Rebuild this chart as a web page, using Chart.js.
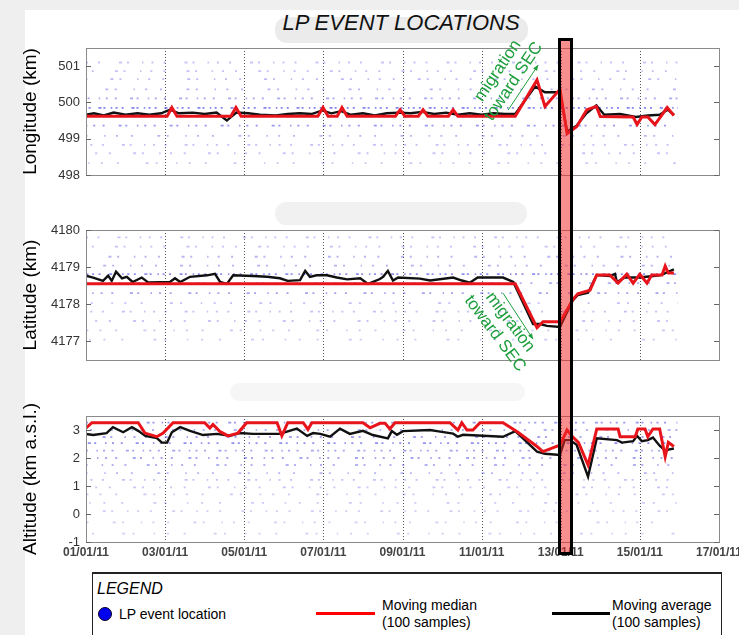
<!DOCTYPE html>
<html>
<head>
<meta charset="utf-8">
<script src="https://cdn.jsdelivr.net/npm/chart.js@4.4.1/dist/chart.umd.min.js"></script>
<style>
  html, body { margin: 0; padding: 0; background: #efefef; }
  #fig { position: relative; width: 739px; height: 635px; overflow: hidden; background: #efefef;
         font-family: "Liberation Sans", Arial, sans-serif; color: #000; }
  #sheet { position: absolute; left: 25px; top: 10px; width: 714px; height: 625px; background: #fff; }
  .band { position: absolute; border-radius: 12px; }
  canvas { position: absolute; left: 0; }
  #title { position: absolute; left: 401px; top: 12px; transform: translateX(-50%); white-space: nowrap;
           font-size: 22px; line-height: 22px; font-style: italic; color: #111; }
  #bar { position: absolute; box-sizing: border-box; background: rgba(240, 40, 40, 0.52);
         border: 3px solid #000; }
  #legend { position: absolute; left: 92px; top: 572px; width: 630px; height: 80px; box-sizing: border-box;
            border: 1.5px solid #222; border-top-width: 2px; background: #fff; }
  .lg { position: absolute; white-space: nowrap; font-size: 14px; line-height: 16px; }
</style>
</head>
<body>
<div id="fig">
  <div id="sheet"></div>
  <div class="band" style="left:275px;top:17px;width:253px;height:26px;background:#ebebeb"></div>
  <div class="band" style="left:275px;top:202px;width:252px;height:23px;background:#f1f1f1"></div>
  <div class="band" style="left:230px;top:383px;width:295px;height:18px;background:#f6f6f6"></div>
  <div id="title">LP EVENT LOCATIONS</div>

  <canvas id="lonChart" width="739" height="200" style="top:0"></canvas>
  <canvas id="latChart" width="739" height="185" style="top:200px"></canvas>
  <canvas id="altChart" width="739" height="185" style="top:385px"></canvas>

  <div id="legend"></div>
  <div class="lg" style="left:97px;top:580px;font-size:16px;line-height:18px;font-style:italic">LEGEND</div>
  <div style="position:absolute;left:98px;top:607px;width:12px;height:12px;border-radius:50%;background:#0000ee;border:1px solid #102"></div>
  <div class="lg" style="left:119px;top:606px">LP event location</div>
  <div style="position:absolute;left:316px;top:612px;width:59px;height:3px;background:#ff0000"></div>
  <div class="lg" style="left:382px;top:597px">Moving median</div>
  <div class="lg" style="left:382px;top:614px">(100 samples)</div>
  <div style="position:absolute;left:552px;top:612px;width:58px;height:3px;background:#000"></div>
  <div class="lg" style="left:612px;top:597px">Moving average</div>
  <div class="lg" style="left:612px;top:614px">(100 samples)</div>

  <div id="bar"></div>
</div>

<script>
const FONT = '"Liberation Sans", Arial, sans-serif';
const GREEN = '#1e9e3c';

// time axis: day of January 2011
const ROW_SPAN = [1.0, 15.95];          // time span of the LP events
const BAR_DAYS = [12.93, 13.31];        // highlighted interval

// ---- Longitude (km)
const lonMedDays = [1.0, 3.05, 3.17, 3.3, 4.66, 4.79, 4.92, 6.86, 6.99, 7.12, 7.35, 7.47, 7.6, 8.82, 8.94, 9.06,
  9.4, 9.52, 9.64, 10.16, 10.28, 10.4, 11.85, 12.4, 12.6, 12.98, 13.16, 13.4, 13.66, 13.9, 14.0, 14.83, 14.93,
  15.05, 15.2, 15.38, 15.69, 15.86];
const lonMedVals = [499.62, 499.62, 499.86, 499.62, 499.62, 499.86, 499.62, 499.62, 499.86, 499.62, 499.62, 499.86,
  499.62, 499.62, 499.8, 499.62, 499.62, 499.8, 499.62, 499.62, 499.8, 499.62, 499.62, 500.62, 499.89, 500.36,
  499.14, 499.33, 499.8, 499.89, 499.61, 499.6, 499.39, 499.6, 499.6, 499.39, 499.86, 499.64];
const lonAvgDays = [1.0, 1.2, 1.45, 1.7, 2.0, 2.3, 2.6, 2.9, 3.12, 3.35, 3.7, 4.0, 4.3, 4.56, 4.8, 5.1, 5.4, 5.8,
  6.1, 6.4, 6.7, 6.97, 7.2, 7.45, 7.7, 8.0, 8.3, 8.6, 8.9, 9.2, 9.5, 9.8, 10.1, 10.4, 10.7, 11.0, 11.3, 11.6,
  11.85, 12.35, 12.6, 12.98, 13.16, 13.4, 13.65, 13.9, 14.1, 14.5, 14.9, 15.2, 15.5, 15.7, 15.86];
const lonAvgVals = [499.66, 499.7, 499.64, 499.72, 499.66, 499.7, 499.66, 499.7, 499.8, 499.7, 499.72, 499.68,
  499.72, 499.5, 499.72, 499.7, 499.66, 499.64, 499.68, 499.7, 499.68, 499.78, 499.7, 499.76, 499.66, 499.7,
  499.64, 499.7, 499.72, 499.7, 499.74, 499.68, 499.72, 499.66, 499.7, 499.66, 499.7, 499.68, 499.68, 500.44,
  500.28, 500.28, 499.2, 499.36, 499.7, 499.92, 499.66, 499.68, 499.6, 499.64, 499.66, 499.8, 499.66];
const lonRowVals = [501.1, 500.86, 500.64, 500.36, 500.11, 499.85, 499.36, 499.08, 498.83, 498.6, 498.33];
const lonRowDens = [0.15, 0.2, 0.25, 0.3, 0.45, 0.8, 0.6, 0.3, 0.2, 0.15, 0.1];

// ---- Latitude (km)
const latMedDays = [1.0, 11.85, 12.4, 12.55, 12.98, 13.16, 13.3, 13.43, 13.74, 13.91, 14.24, 14.45, 14.67, 14.83,
  15.0, 15.18, 15.3, 15.56, 15.64, 15.72, 15.86];
const latMedVals = [4178.55, 4178.55, 4177.37, 4177.53, 4177.53, 4177.85, 4178.12, 4178.28, 4178.38, 4178.79,
  4178.79, 4178.57, 4178.81, 4178.57, 4178.81, 4178.57, 4178.79, 4178.79, 4179.03, 4178.84, 4178.84];
const latAvgDays = [1.0, 1.18, 1.43, 1.56, 1.65, 1.76, 1.91, 2.03, 2.18, 2.41, 2.57, 3.12, 3.25, 3.38, 3.63, 4.06,
  4.26, 4.39, 4.56, 4.72, 5.22, 5.58, 5.9, 6.1, 6.41, 6.54, 6.66, 6.83, 7.09, 7.34, 7.6, 7.93, 8.13, 8.43, 8.51,
  8.63, 8.76, 8.89, 9.44, 9.7, 10.28, 10.5, 10.7, 10.9, 11.54, 11.8, 12.3, 12.48, 12.65, 12.98, 13.3, 13.43,
  13.69, 13.91, 14.24, 14.37, 14.42, 14.62, 15.0, 15.5, 15.6, 15.86];
const latAvgVals = [4178.77, 4178.72, 4178.63, 4178.77, 4178.63, 4178.88, 4178.7, 4178.74, 4178.6, 4178.72,
  4178.59, 4178.6, 4178.7, 4178.6, 4178.74, 4178.78, 4178.82, 4178.6, 4178.55, 4178.78, 4178.76, 4178.74,
  4178.7, 4178.63, 4178.65, 4178.9, 4178.74, 4178.78, 4178.78, 4178.72, 4178.67, 4178.7, 4178.55, 4178.68,
  4178.74, 4178.9, 4178.64, 4178.72, 4178.69, 4178.64, 4178.72, 4178.64, 4178.58, 4178.72, 4178.72, 4178.6,
  4177.47, 4177.47, 4177.42, 4177.39, 4178.1, 4178.25, 4178.31, 4178.79, 4178.76, 4178.82, 4178.6, 4178.72,
  4178.72, 4178.78, 4178.82, 4178.94];
const latRowVals = [4179.8, 4179.55, 4179.28, 4179.04, 4178.81, 4178.57, 4178.3, 4178.03, 4177.8, 4177.55,
  4177.3, 4177.05];
const latRowDens = [0.2, 0.2, 0.3, 0.35, 0.7, 0.4, 0.5, 0.2, 0.2, 0.15, 0.12, 0.1];

// ---- Altitude (km a.s.l.)
const altMedDays = [1.0, 1.15, 2.32, 2.49, 2.79, 2.95, 3.2, 4.0, 4.13, 4.21, 4.39, 4.59, 4.84, 5.06, 5.83, 5.95,
  6.1, 6.49, 6.61, 6.71, 8.0, 8.18, 8.43, 8.56, 8.68, 8.81, 10.2, 10.4, 10.5, 10.63, 10.78, 10.96, 11.54, 11.9,
  12.4, 12.55, 12.98, 13.16, 13.3, 13.45, 13.69, 13.91, 14.45, 14.5, 14.88, 14.95, 15.13, 15.2, 15.33, 15.5,
  15.64, 15.72, 15.86];
const altMedVals = [3.07, 3.26, 3.26, 2.89, 2.76, 2.89, 3.26, 3.26, 3.07, 3.2, 2.94, 2.79, 2.89, 3.26, 3.26, 2.79,
  3.26, 3.26, 3.02, 3.26, 3.26, 3.08, 3.24, 3.24, 3.04, 3.26, 3.26, 3.0, 3.26, 3.0, 3.0, 3.26, 3.26, 2.94, 2.41,
  2.23, 2.46, 3.0, 2.76, 2.55, 1.75, 3.04, 3.04, 2.76, 2.76, 3.04, 3.04, 2.76, 3.04, 3.04, 2.05, 2.56, 2.41];
const altAvgDays = [1.0, 1.18, 1.52, 1.68, 1.94, 2.16, 2.32, 2.5, 2.79, 2.92, 3.05, 3.17, 3.38, 3.63, 3.96, 4.31,
  4.64, 4.89, 5.22, 5.9, 6.08, 6.33, 6.59, 6.74, 6.92, 7.17, 7.42, 7.67, 8.0, 8.25, 8.63, 8.73, 8.86, 9.01, 9.7,
  9.87, 10.28, 10.4, 10.53, 11.54, 11.85, 12.4, 12.6, 12.98, 13.1, 13.24, 13.4, 13.69, 13.91, 14.42, 14.55,
  14.83, 14.93, 15.05, 15.2, 15.33, 15.5, 15.64, 15.72, 15.86];
const altAvgVals = [2.86, 2.82, 2.89, 3.1, 2.92, 3.1, 2.97, 2.79, 2.71, 2.55, 2.55, 2.92, 3.1, 2.97, 2.82, 2.86,
  2.79, 2.89, 2.86, 2.86, 2.94, 3.05, 2.79, 2.89, 2.86, 2.76, 3.05, 2.86, 2.97, 2.82, 2.7, 2.96, 2.83, 2.96, 3.0,
  2.96, 2.87, 2.76, 2.83, 2.76, 2.96, 2.23, 2.15, 2.11, 2.64, 2.64, 2.47, 1.33, 2.7, 2.64, 2.55, 2.6, 2.79, 2.6,
  2.64, 2.73, 2.44, 2.26, 2.3, 2.34];
const altRowVals = [3.26, 3.0, 2.75, 2.53, 2.26, 2.0, 1.75, 1.46, 1.22, 0.95, 0.7, 0.4, 0.1, -0.3, -0.7];
const altRowDens = [0.6, 0.35, 0.45, 0.7, 0.5, 0.45, 0.35, 0.3, 0.2, 0.15, 0.12, 0.1, 0.08, 0.06, 0.05];

const dayLabel = v => (v < 10 ? '0' : '') + v + '/01/11';

function pts(xs, ys) {
    return xs.map((x, i) => ({ x: x, y: ys[i] }));
}

// event rows drawn as faint dotted strips
function rowDatasets(vals, dens) {
    return vals.map((v, i) => {
        const gap = (1.5 + (1 - dens[i]) * 10) * (1 + (i % 4) * 0.17);
        return {
            data: pts(ROW_SPAN, [v, v]),
            borderColor: 'rgba(70,70,225,' + (0.22 + 0.55 * dens[i]).toFixed(2) + ')',
            borderWidth: 1.8,
            borderDash: [2, gap, 2, gap * 1.9, 3, gap * 0.5, 2, gap * 1.3, 1.5, gap * 0.8],
            borderDashOffset: i * 7.3,
            pointRadius: 0,
            order: 3
        };
    });
}

function drawNote(ctx, chart, note) {
    const { x, y } = chart.scales;
    ctx.save();
    ctx.fillStyle = GREEN;
    ctx.strokeStyle = GREEN;
    const x0 = x.getPixelForValue(note.arrow[0]), y0 = y.getPixelForValue(note.arrow[1]);
    const x1 = x.getPixelForValue(note.arrow[2]), y1 = y.getPixelForValue(note.arrow[3]);
    ctx.lineWidth = 1;
    ctx.beginPath();
    ctx.moveTo(x0, y0);
    ctx.lineTo(x1, y1);
    ctx.stroke();
    const ang = Math.atan2(y1 - y0, x1 - x0);
    ctx.beginPath();
    ctx.moveTo(x1, y1);
    ctx.lineTo(x1 - 6 * Math.cos(ang - 0.4), y1 - 6 * Math.sin(ang - 0.4));
    ctx.lineTo(x1 - 6 * Math.cos(ang + 0.4), y1 - 6 * Math.sin(ang + 0.4));
    ctx.closePath();
    ctx.fill();

    ctx.translate(x.getPixelForValue(note.at[0]), y.getPixelForValue(note.at[1]));
    ctx.rotate(note.angle * Math.PI / 180);
    ctx.font = '17px ' + FONT;
    ctx.textAlign = 'center';
    ctx.textBaseline = 'middle';
    ctx.fillText('migration', 0, 0);
    ctx.fillText('toward SEC', 0, 19);
    ctx.restore();
}

const panelDecor = {
    id: 'panelDecor',
    beforeDatasetsDraw(chart) {
        const { ctx, chartArea: a, scales: { x } } = chart;
        ctx.save();
        ctx.strokeStyle = '#555';
        ctx.lineWidth = 1;
        ctx.setLineDash([1, 2]);
        x.ticks.forEach(t => {
            if (t.value === x.min || t.value === x.max) return;
            const px = Math.round(x.getPixelForValue(t.value)) + 0.5;
            ctx.beginPath();
            ctx.moveTo(px, a.top);
            ctx.lineTo(px, a.bottom);
            ctx.stroke();
        });
        ctx.restore();
    },
    afterDraw(chart, args, opts) {
        const { ctx, chartArea: a, scales: { y } } = chart;
        ctx.save();
        ctx.strokeStyle = '#8a8a8a';
        ctx.lineWidth = 1;
        ctx.strokeRect(Math.round(a.left) + 0.5, Math.round(a.top) + 0.5,
            Math.round(a.right - a.left), Math.round(a.bottom - a.top));
        ctx.strokeStyle = '#666';
        y.ticks.forEach(t => {
            const py = Math.round(y.getPixelForValue(t.value)) + 0.5;
            ctx.beginPath();
            ctx.moveTo(a.left, py); ctx.lineTo(a.left + 5, py);
            ctx.moveTo(a.right - 5, py); ctx.lineTo(a.right, py);
            ctx.stroke();
        });
        ctx.restore();
        if (opts && opts.note) drawNote(ctx, chart, opts.note);
    }
};

function makePanel(canvasId, cfg) {
    const ctx = document.getElementById(canvasId).getContext('2d');
    return new Chart(ctx, {
        type: 'line',
        data: {
            datasets: [
                { label: 'Moving median', data: pts(cfg.medDays, cfg.medVals), borderColor: '#e8141b',
                  borderWidth: 3, pointRadius: 0, order: 0 },
                { label: 'Moving average', data: pts(cfg.avgDays, cfg.avgVals), borderColor: '#111',
                  borderWidth: 2.4, pointRadius: 0, order: 1 },
                ...rowDatasets(cfg.rowVals, cfg.rowDens)
            ]
        },
        options: {
            responsive: false,
            animation: false,
            layout: { padding: { top: cfg.top, right: 20, left: 0, bottom: 0 } },
            plugins: {
                legend: { display: false },
                tooltip: { enabled: false },
                panelDecor: { note: cfg.note || null }
            },
            scales: {
                x: {
                    type: 'linear', min: 1, max: 17,
                    grid: { display: false, drawTicks: false },
                    border: { display: false },
                    ticks: {
                        display: cfg.showDates, stepSize: 2, padding: 3, maxRotation: 0, autoSkip: false,
                        color: '#444', font: { family: FONT, size: 12, weight: 'bold' },
                        callback: v => dayLabel(v)
                    },
                    afterFit: s => { s.height = cfg.xHeight; s.paddingLeft = 0; s.paddingRight = 0; }
                },
                y: {
                    min: cfg.min, max: cfg.max,
                    grid: { display: false, drawTicks: false },
                    border: { display: false },
                    ticks: { stepSize: 1, includeBounds: false, padding: 6, color: '#333',
                             font: { family: FONT, size: 13 }, callback: v => String(v) },
                    title: { display: true, text: cfg.title, color: '#000',
                             font: { family: FONT, size: 19 }, padding: { top: 19, bottom: 0 } },
                    afterFit: s => { s.width = 86; }
                }
            }
        },
        plugins: [panelDecor]
    });
}

const lonChart = makePanel('lonChart', {
    title: 'Longitude (km)', min: 498, max: 501.5, top: 48, xHeight: 25, showDates: false,
    medDays: lonMedDays, medVals: lonMedVals, avgDays: lonAvgDays, avgVals: lonAvgVals,
    rowVals: lonRowVals, rowDens: lonRowDens,
    note: { at: [11.41, 500.87], angle: -56, arrow: [11.67, 499.79, 12.43, 501.03] }
});

const latChart = makePanel('latChart', {
    title: 'Latitude (km)', min: 4176.5, max: 4180, top: 30, xHeight: 25, showDates: false,
    medDays: latMedDays, medVals: latMedVals, avgDays: latAvgDays, avgVals: latAvgVals,
    rowVals: latRowVals, rowDens: latRowDens,
    note: { at: [11.72, 4177.52], angle: 53, arrow: [11.54, 4178.3, 12.3, 4177.06] }
});

const altChart = makePanel('altChart', {
    title: 'Altitude (km a.s.l.)', min: -1, max: 3.5, top: 31, xHeight: 28, showDates: true,
    medDays: altMedDays, medVals: altMedVals, avgDays: altAvgDays, avgVals: altAvgVals,
    rowVals: altRowVals, rowDens: altRowDens
});

// highlighted interval across all three panels
const xs = altChart.scales.x;
const bar = document.getElementById('bar');
const barLeft = Math.round(xs.getPixelForValue(BAR_DAYS[0]));
const barRight = Math.round(xs.getPixelForValue(BAR_DAYS[1]));
bar.style.left = barLeft + 'px';
bar.style.width = (barRight - barLeft) + 'px';
bar.style.top = '38px';
bar.style.height = '517px';
</script>
</body>
</html>
